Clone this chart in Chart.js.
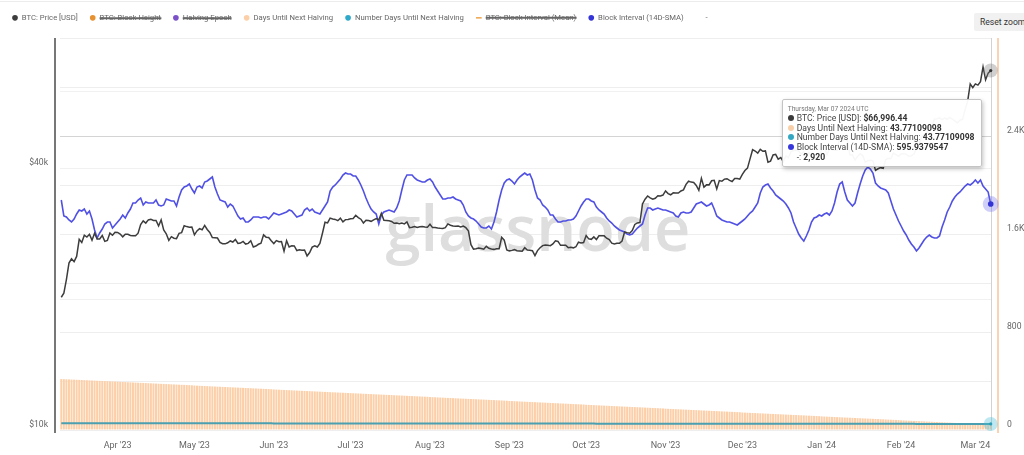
<!DOCTYPE html>
<html>
<head>
<meta charset="utf-8">
<script src="https://cdn.jsdelivr.net/npm/chart.js@4.4.1/dist/chart.umd.min.js"></script>
<style>
  html, body { margin: 0; padding: 0; background: #fff; }
  #wrap { position: relative; width: 1024px; height: 455px; overflow: hidden; font-family: Roboto, "Liberation Sans", sans-serif; }
  #wrap canvas { position: absolute; left: 0; top: 0; }
  #topRule { position: absolute; left: 0; right: 0; top: 1px; height: 1px; background: #ececec; }
  #resetZoom { position: absolute; left: 974px; top: 13px; width: 60px; height: 18px; background: #f1f1f1; border-radius: 2px;
               font-size: 8.6px; color: #333; line-height: 18px; padding-left: 6px; box-sizing: border-box; }
  #tip { position: absolute; display: none; background: rgba(255,255,255,0.96); border: 1px solid #c4c4c4; border-radius: 2px;
         box-shadow: 1px 2px 4px rgba(0,0,0,0.25); padding: 4px 6px 4px 4px; color: #444; font-size: 8.6px; white-space: nowrap; }
  #tip .tt-title { font-size: 6.6px; color: #777; margin: 1px 0 1px 1px; }
  #tip .tt-row { height: 9.7px; line-height: 9.7px; }
  #tip .tt-dot { display: inline-block; width: 6px; height: 6px; border-radius: 50%; margin: 0 3px 0 1px; vertical-align: 0; }
  #tip b { color: #333; }
</style>
</head>
<body>
<div id="wrap">
  <canvas id="haltChart" width="1024" height="455"></canvas>
  <div id="topRule"></div>
  <div id="resetZoom">Reset zoom</div>
  <div id="tip"></div>
</div>
<script>
// ---------- data (daily, 10 Mar 2023 -> 07 Mar 2024) ----------
const startDate = "2023-03-10";

const priceMar23 = [20187, 20632, 22163, 24197, 24746, 24375, 25053, 27423, 26965, 28038, 27768, 28175, 27307, 28333, 27493, 27494, 27994, 27139, 27268, 28348, 28033, 28478];
const priceApr23 = [28454, 28199, 27790, 28168, 28175, 27992, 27947, 27957, 28333, 29653, 30235, 29892, 30400, 30485, 30318, 30315, 29445, 30397, 28822, 28245, 27276, 27817, 27591, 27525, 28307, 28422, 29473, 29340, 29248, 29268];
const priceMay23 = [28091, 28680, 29031, 28848, 29535, 28904, 28455, 27695, 27658, 27621, 26988, 26805, 26784, 26931, 27192, 27036, 27400, 26833, 26890, 27129, 26754, 26851, 27225, 26334, 26476, 26719, 26868, 28085, 27745, 27702, 27219];
const priceJun23 = [26819, 27249, 27075, 27119, 25760, 27238, 26346, 26508, 26480, 25851, 25940, 25902, 25919, 25124, 25576, 26327, 26510, 26336, 26852, 28327, 30027, 29912, 30695, 30548, 30480, 30271, 30689, 30087, 30445, 30477];
const priceJul23 = [30590, 30620, 31156, 30777, 30514, 29910, 30346, 30292, 30171, 30414, 30620, 30392, 31476, 30335, 30295, 30249, 30145, 29857, 29913, 29793, 29908, 29771, 30084, 29176, 29228, 29354, 29210, 29319, 29357, 29278, 29230];
const priceAug23 = [29705, 29186, 29193, 29113, 29072, 29049, 29174, 29766, 29561, 29429, 29398, 29416, 29284, 29409, 29170, 28701, 26665, 26050, 26100, 26190, 26125, 26040, 26432, 26165, 26050, 26010, 26090, 26105, 27730, 27300, 25935];
const priceSep23 = [25805, 25870, 25970, 25830, 25790, 25755, 26240, 25905, 25895, 25830, 25160, 25840, 26230, 26530, 26610, 26570, 26530, 26760, 27210, 27130, 26570, 26580, 26580, 26250, 26300, 26220, 26370, 27020, 26910, 26970];
const priceOct23 = [27990, 27500, 27430, 27790, 27410, 27950, 27970, 27940, 27590, 27390, 26870, 26760, 26860, 26860, 27160, 28520, 28420, 28330, 28720, 29680, 29920, 29990, 33090, 33920, 34500, 34160, 33910, 34090, 34540, 34500, 34670];
const priceNov23 = [35430, 34940, 34720, 35080, 35030, 35040, 35420, 35630, 36690, 37310, 37130, 37070, 36490, 35550, 37880, 36160, 36600, 36590, 37390, 37470, 35810, 37430, 37290, 37720, 37800, 37480, 37250, 37830, 37860, 37710];
const priceDec23 = [38690, 39470, 39980, 41990, 44080, 43770, 43290, 44170, 43720, 43790, 41250, 41490, 42880, 43020, 41940, 42280, 41370, 42660, 42270, 43650, 43880, 43990, 43740, 43020, 43610, 42520, 43440, 42580, 42070, 42140, 42280];
const priceJan24 = [44180, 44950, 42850, 44180, 44160, 43970, 43940, 46970, 46110, 46630, 46340, 42890, 42840, 41730, 42510, 43150, 42740, 41260, 41620, 41670, 41550, 39510, 39850, 40080, 39940, 41820, 42120, 42030, 43300, 42950, 42580];
const priceFeb24 = [43080, 43190, 43000, 42580, 42660, 43090, 44340, 45300, 47150, 47770, 48290, 49960, 49700, 51810, 51940, 52160, 51660, 52120, 51780, 52280, 51850, 51320, 50750, 51570, 51730, 54490, 57040, 62430, 61200];
const priceMar24 = [62440, 62030, 63170, 68330, 63800, 66110, 66996.44];

const blockMar23 = [600, 584, 583, 580, 578, 581, 586, 590, 589, 591, 586, 589, 581, 570, 562, 567, 571, 576, 578, 578, 572, 575];
const blockApr23 = [578, 581, 585, 582, 587, 591, 597, 597, 600, 602, 595, 598, 597, 597, 597, 600, 595, 594, 595, 601, 600, 599, 599, 594, 603, 610, 613, 614, 616, 611];
const blockMay23 = [607, 613, 614, 612, 618, 619, 621, 623, 613, 606, 600, 599, 598, 593, 596, 594, 589, 584, 581, 582, 578, 578, 580, 583, 583, 583, 582, 583, 583, 581, 584];
const blockJun23 = [587, 586, 585, 586, 587, 588, 590, 589, 586, 583, 584, 585, 590, 592, 589, 591, 588, 587, 586, 590, 594, 598, 609, 613, 615, 618, 621, 625, 627, 626];
const blockJul23 = [626, 624, 624, 620, 615, 609, 602, 596, 591, 588, 586, 576, 585, 588, 589, 590, 589, 588, 592, 599, 610, 620, 625, 625, 625, 622, 620, 619, 618, 618, 620];
const blockAug23 = [621, 618, 613, 609, 605, 601, 601, 602, 602, 603, 601, 600, 599, 595, 588, 584, 582, 581, 579, 576, 573, 572, 572, 574, 571, 578, 588, 600, 610, 617, 620];
const blockSep23 = [621, 619, 616, 620, 623, 625, 627, 625, 626, 620, 610, 602, 600, 595, 593, 590, 585, 585, 581, 578, 578, 579, 579, 580, 580, 581, 584, 589, 594, 598];
const blockOct23 = [601, 601, 599, 598, 593, 590, 588, 586, 582, 579, 577, 574, 572, 570, 569, 568, 566, 565, 566, 569, 572, 574, 576, 585, 592, 592, 590, 591, 592, 591, 590];
const blockNov23 = [590, 589, 588, 587, 584, 583, 587, 588, 587, 587, 588, 592, 596, 597, 598, 596, 594, 595, 597, 591, 584, 582, 580, 579, 578, 578, 577, 576, 575, 577];
const blockDec23 = [579, 581, 584, 587, 589, 593, 597, 607, 613, 615, 616, 612, 609, 605, 603, 601, 599, 596, 592, 587, 578, 572, 566, 562, 559, 564, 570, 578, 582, 583, 585];
const blockJan24 = [584, 586, 587, 585, 589, 597, 608, 616, 618, 608, 600, 597, 594, 597, 607, 616, 624, 630, 633, 631, 627, 617, 614, 612, 611, 610, 607, 599, 591, 585, 579];
const blockFeb24 = [574, 569, 565, 560, 556, 553, 549, 552, 556, 560, 563, 565, 563, 562, 562, 564, 573, 580, 588, 593, 599, 603, 606, 608, 611, 614, 616, 615, 617];
const blockMar24 = [620, 617, 620, 614, 611, 608, 595.9379547];

const daysMar23 = [416, 415, 414, 413, 412, 411, 410, 409, 408, 407, 406, 405, 404, 403, 402, 401, 400, 399, 398, 397, 396, 395];
const daysApr23 = [394, 393, 392, 391, 390, 389, 388, 387, 386, 385, 384, 383, 382, 381, 380, 379, 378, 377, 376, 375, 374, 373, 372, 371, 370, 369, 368, 367, 366, 365];
const daysMay23 = [363, 362, 361, 360, 359, 358, 357, 356, 355, 354, 353, 352, 351, 350, 349, 348, 347, 346, 345, 344, 343, 342, 341, 340, 339, 338, 337, 336, 335, 334, 333];
const daysJun23 = [331, 330, 329, 328, 327, 326, 325, 324, 323, 322, 321, 320, 319, 318, 317, 316, 315, 314, 313, 312, 311, 310, 309, 308, 307, 306, 305, 304, 303, 302];
const daysJul23 = [301, 300, 299, 298, 297, 296, 295, 294, 293, 292, 291, 290, 289, 288, 287, 286, 285, 284, 283, 282, 281, 280, 279, 278, 277, 276, 275, 274, 273, 272, 271];
const daysAug23 = [269, 268, 267, 266, 265, 264, 263, 262, 261, 260, 259, 258, 257, 256, 255, 254, 253, 252, 251, 250, 249, 248, 247, 246, 245, 244, 243, 242, 241, 240, 239];
const daysSep23 = [237, 236, 235, 234, 233, 232, 231, 230, 229, 228, 227, 226, 225, 224, 223, 222, 221, 220, 219, 218, 217, 216, 215, 214, 213, 212, 211, 210, 209, 208];
const daysOct23 = [206, 205, 204, 203, 202, 201, 200, 199, 198, 197, 196, 195, 194, 193, 192, 191, 190, 189, 188, 187, 186, 185, 184, 183, 182, 181, 180, 179, 178, 177, 176];
const daysNov23 = [174, 173, 172, 171, 170, 169, 168, 167, 166, 165, 164, 163, 162, 161, 160, 159, 158, 157, 156, 155, 154, 153, 152, 151, 150, 149, 148, 147, 146, 145];
const daysDec23 = [143, 142, 141, 140, 139, 138, 137, 136, 135, 134, 133, 132, 131, 130, 129, 128, 127, 126, 125, 124, 123, 122, 121, 120, 119, 118, 117, 116, 115, 114, 113];
const daysJan24 = [111, 110, 109, 108, 107, 106, 105, 104, 103, 102, 101, 100, 99, 98, 97, 96, 95, 94, 93, 92, 91, 90, 89, 88, 87, 86, 85, 84, 83, 82, 81];
const daysFeb24 = [79, 78, 77, 76, 75, 74, 73, 72, 71, 70, 69, 68, 67, 66, 65, 64, 63, 62, 61, 60, 59, 58, 57, 56, 55, 54, 53, 52, 51];
const daysMar24 = [50, 49, 48, 47, 46, 45, 43.77109098];

// the unnamed "-" series only has a value on the hovered day
const unnamedLastValue = 2920;

const btcPrice = [].concat(priceMar23, priceApr23, priceMay23, priceJun23, priceJul23, priceAug23,
    priceSep23, priceOct23, priceNov23, priceDec23, priceJan24, priceFeb24, priceMar24);
const blockInterval = [].concat(blockMar23, blockApr23, blockMay23, blockJun23, blockJul23, blockAug23,
    blockSep23, blockOct23, blockNov23, blockDec23, blockJan24, blockFeb24, blockMar24);
const daysUntilHalving = [].concat(daysMar23, daysApr23, daysMay23, daysJun23, daysJul23, daysAug23,
    daysSep23, daysOct23, daysNov23, daysDec23, daysJan24, daysFeb24, daysMar24);

const monthTickDates = ["2023-04-01", "2023-05-01", "2023-06-01", "2023-07-01", "2023-08-01", "2023-09-01",
    "2023-10-01", "2023-11-01", "2023-12-01", "2024-01-01", "2024-02-01", "2024-03-01"];
const monthTickLabels = ["Apr '23", "May '23", "Jun '23", "Jul '23", "Aug '23", "Sep '23",
    "Oct '23", "Nov '23", "Dec '23", "Jan '24", "Feb '24", "Mar '24"];

const priceTicks = [10000, 20000, 40000, 60000];
const priceTickShown = [10000, 40000];
const priceTickText = ["$10k", "$40k"];
const daysTickShown = [0, 800, 1600, 2400];
const daysTickText = ["0", "800", "1.6K", "2.4K"];

// ---------- categories ----------
const dates = [];
{
    const d = new Date(startDate + "T00:00:00Z");
    for (let i = 0; i < btcPrice.length; i++) {
        dates.push(d.toISOString().slice(0, 10));
        d.setUTCDate(d.getUTCDate() + 1);
    }
}
const unnamedSeries = dates.map((_, i) => (i === dates.length - 1 ? unnamedLastValue : null));

// ---------- colours ----------
const tipColors = {
    "BTC: Price [USD]": "#3a3a3a",
    "Days Until Next Halving": "#f8cfa9",
    "Number Days Until Next Halving": "#35a7c2",
    "Block Interval (14D-SMA)": "#3737dc",
    "-": "transparent"
};
const halos = {
    0: { halo: "rgba(120,120,120,0.35)", dot: "#333", r: 7, d: 1.6 },
    4: { halo: "rgba(70,190,215,0.35)", dot: "#2a9fb8", r: 7, d: 1.6 },
    6: { halo: "rgba(95,95,235,0.30)", dot: "#3434d6", r: 8, d: 2.8 }
};

// ---------- plugins ----------
const legendHeight = {
    id: "legendHeight",
    beforeInit(chart) {
        const fit = chart.legend.fit;
        chart.legend.fit = function () {
            fit.bind(chart.legend)();
            this.height = 36;
        };
    }
};

const watermark = {
    id: "watermark",
    beforeDatasetsDraw(chart) {
        const { ctx, chartArea } = chart;
        ctx.save();
        let size = 70;
        ctx.font = `600 ${size}px "Open Sans", sans-serif`;
        size = size * 305 / ctx.measureText("glassnode").width;
        ctx.font = `600 ${size}px "Open Sans", sans-serif`;
        ctx.fillStyle = "#dedede";
        ctx.textAlign = "center";
        ctx.textBaseline = "alphabetic";
        ctx.fillText("glassnode", chartArea.left + 478, chartArea.top + 213);
        ctx.restore();
    }
};

const crosshair = {
    id: "crosshair",
    beforeDatasetsDraw(chart) {
        const act = chart.getActiveElements();
        if (!act.length) return;
        const { ctx, chartArea } = chart;
        const x = Math.round(act[0].element.x) + 0.5;
        ctx.save();
        ctx.strokeStyle = "#d2d2d2";
        ctx.lineWidth = 1;
        ctx.beginPath();
        ctx.moveTo(x, chartArea.top);
        ctx.lineTo(x, chartArea.bottom);
        ctx.stroke();
        ctx.restore();
    },
    afterDatasetsDraw(chart) {
        const { ctx, chartArea } = chart;
        ctx.save();
        // left price axis line and right (halving) axis line
        ctx.lineWidth = 1.5;
        ctx.strokeStyle = "#4a4a4a";
        ctx.beginPath();
        ctx.moveTo(chartArea.left - 5, chartArea.top);
        ctx.lineTo(chartArea.left - 5, chartArea.bottom + 3);
        ctx.stroke();
        ctx.strokeStyle = "#f8c49c";
        ctx.beginPath();
        ctx.moveTo(chartArea.right + 6, chartArea.top);
        ctx.lineTo(chartArea.right + 6, chartArea.bottom + 3);
        ctx.stroke();
        // hover halos
        chart.getActiveElements().forEach(a => {
            const h = halos[a.datasetIndex];
            if (!h) return;
            ctx.fillStyle = h.halo;
            ctx.beginPath();
            ctx.arc(a.element.x, a.element.y, h.r, 0, Math.PI * 2);
            ctx.fill();
            ctx.fillStyle = h.dot;
            ctx.beginPath();
            ctx.arc(a.element.x, a.element.y, h.d, 0, Math.PI * 2);
            ctx.fill();
        });
        ctx.restore();
    }
};

// ---------- tooltip ----------
function formatValue(label, v) {
    if (label === "BTC: Price [USD]") {
        return "$" + v.toLocaleString("en-US", { minimumFractionDigits: 2, maximumFractionDigits: 2 });
    }
    if (label === "-") return v.toLocaleString("en-US");
    return String(v);
}

function renderTooltip(context) {
    const { chart, tooltip } = context;
    const tip = document.getElementById("tip");
    if (tooltip.opacity === 0) {
        tip.style.display = "none";
        return;
    }
    const points = tooltip.dataPoints.slice().sort((a, b) => a.datasetIndex - b.datasetIndex);
    const d = new Date(points[0].label + "T00:00:00Z");
    const weekday = d.toLocaleDateString("en-US", { weekday: "long", timeZone: "UTC" });
    const month = d.toLocaleDateString("en-US", { month: "short", timeZone: "UTC" });
    const day = String(d.getUTCDate()).padStart(2, "0");
    let html = `<div class="tt-title">${weekday}, ${month} ${day} ${d.getUTCFullYear()} UTC</div>`;
    points.forEach(p => {
        const label = p.dataset.label;
        html += `<div class="tt-row"><span class="tt-dot" style="background:${tipColors[label] || "transparent"}"></span>` +
            `${label}: <b>${formatValue(label, p.raw)}</b></div>`;
    });
    tip.innerHTML = html;
    tip.style.display = "block";
    tip.style.left = (tooltip.caretX - 9 - tip.offsetWidth) + "px";
    tip.style.top = (chart.chartArea.top + 61) + "px";
}

// ---------- chart ----------
Chart.defaults.font.family = "Roboto, 'Liberation Sans', sans-serif";
Chart.defaults.color = "#666";

const chart = new Chart(document.getElementById("haltChart"), {
    data: {
        labels: dates,
        datasets: [
            {
                type: "line", label: "BTC: Price [USD]", data: btcPrice, yAxisID: "yPrice",
                borderColor: "#3d3d3d", backgroundColor: "#3d3d3d", borderWidth: 1.5,
                pointRadius: 0, pointHoverRadius: 0, tension: 0, order: 1
            },
            {
                type: "line", label: "BTC: Block Height", data: [], yAxisID: "yDays", hidden: true,
                borderColor: "#e8912f", backgroundColor: "#e8912f", pointRadius: 0, order: 1
            },
            {
                type: "line", label: "Halving Epoch", data: [], yAxisID: "yDays", hidden: true,
                borderColor: "#7b50c8", backgroundColor: "#7b50c8", pointRadius: 0, order: 1
            },
            {
                type: "bar", label: "Days Until Next Halving", data: daysUntilHalving, yAxisID: "yDays",
                backgroundColor: "#fccfa8", hoverBackgroundColor: "#fccfa8", borderWidth: 0,
                barPercentage: 0.78, categoryPercentage: 1, order: 10
            },
            {
                type: "line", label: "Number Days Until Next Halving", data: daysUntilHalving, yAxisID: "yNum",
                borderColor: "#4a9fb0", backgroundColor: "#2fa9c9", borderWidth: 2,
                pointRadius: 0, pointHoverRadius: 0, tension: 0, order: 2
            },
            {
                type: "line", label: "BTC: Block Interval (Mean)", data: [], yAxisID: "yDays", hidden: true,
                borderColor: "#f0a24a", backgroundColor: "#f0a24a", pointStyle: "line", pointRadius: 0, order: 1
            },
            {
                type: "line", label: "Block Interval (14D-SMA)", data: blockInterval, yAxisID: "yBlock",
                borderColor: "#5050e4", backgroundColor: "#3434d8", borderWidth: 1.6,
                pointRadius: 0, pointHoverRadius: 0, tension: 0, order: 1
            },
            {
                type: "line", label: "-", data: unnamedSeries, yAxisID: "yDays",
                borderColor: "rgba(0,0,0,0)", backgroundColor: "rgba(0,0,0,0)",
                pointRadius: 0, pointHoverRadius: 0, order: 1
            }
        ]
    },
    options: {
        responsive: false,
        animation: false,
        events: [],
        layout: { padding: { top: 2, left: 0, right: 0, bottom: 0 } },
        plugins: {
            legend: {
                position: "top",
                align: "start",
                labels: {
                    usePointStyle: true,
                    boxWidth: 6,
                    boxHeight: 4,
                    padding: 12,
                    color: "#666",
                    font: { size: 7.7 },
                    sort: (a, b) => a.datasetIndex - b.datasetIndex,
                    generateLabels(chart) {
                        const items = Chart.defaults.plugins.legend.labels.generateLabels(chart);
                        items.forEach(item => {
                            if (item.pointStyle !== "line") item.lineWidth = 0;
                            else item.lineWidth = 1.5;
                        });
                        return items;
                    }
                }
            },
            tooltip: { enabled: false, external: renderTooltip }
        },
        scales: {
            x: {
                type: "category",
                offset: true,
                grid: { display: false, drawTicks: false },
                border: { display: false },
                ticks: {
                    autoSkip: false,
                    maxRotation: 0,
                    minRotation: 0,
                    padding: 10,
                    color: "#666",
                    font: { size: 9 },
                    callback(value, index) {
                        const k = monthTickDates.indexOf(dates[index]);
                        return k >= 0 ? monthTickLabels[k] : "";
                    }
                },
                afterFit(scale) { scale.height = 25; }
            },
            yPrice: {
                type: "logarithmic",
                position: "left",
                min: 10000,
                max: 79600,
                afterBuildTicks(scale) { scale.ticks = priceTicks.map(v => ({ value: v })); },
                grid: { color: "#f1f1f1", drawTicks: false },
                border: { display: false },
                ticks: {
                    padding: 12,
                    labelOffset: -5,
                    color: "#666",
                    font: { size: 8.6 },
                    callback(value) {
                        const k = priceTickShown.indexOf(value);
                        return k >= 0 ? priceTickText[k] : "";
                    }
                },
                afterFit(scale) { scale.width = 60; }
            },
            yDays: {
                type: "linear",
                position: "right",
                min: 0,
                max: 3200,
                grid: {
                    drawTicks: false,
                    color: ctx => (ctx.tick && ctx.tick.value === 2400 ? "#d4d4d4" : "#eeeeee")
                },
                border: { display: false },
                ticks: {
                    stepSize: 400,
                    padding: 15,
                    labelOffset: -5,
                    color: "#666",
                    font: { size: 8.6 },
                    callback(value) {
                        const k = daysTickShown.indexOf(value);
                        return k >= 0 ? daysTickText[k] : "";
                    }
                },
                afterFit(scale) { scale.width = 32; }
            },
            yBlock: { type: "linear", display: false, min: 370, max: 762 },
            yNum: { type: "linear", display: false, min: -3100, max: 200000 }
        }
    },
    plugins: [legendHeight, watermark, crosshair]
});

// ---------- hovered day: Thursday, Mar 07 2024 ----------
const lastIndex = dates.length - 1;
const activePoints = [0, 3, 4, 6, 7].map(i => ({ datasetIndex: i, index: lastIndex }));
chart.setActiveElements(activePoints);
chart.tooltip.setActiveElements(activePoints, { x: 0, y: 0 });
chart.update();
</script>
</body>
</html>
